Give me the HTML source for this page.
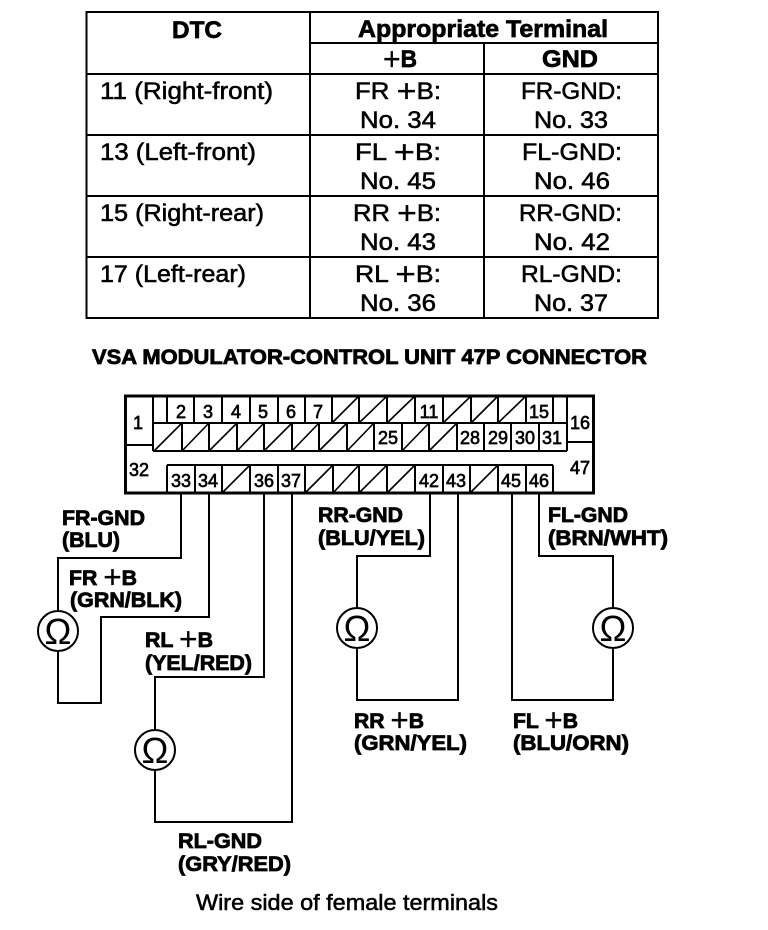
<!DOCTYPE html>
<html><head><meta charset="utf-8">
<style>
html,body{margin:0;padding:0;background:#fff;width:768px;height:930px;overflow:hidden}
svg{display:block}
text{font-family:"Liberation Sans",sans-serif;fill:#000}
.r{font-size:24px;stroke:#000;stroke-width:.55px}
.b{font-size:21.5px;font-weight:bold;stroke:#000;stroke-width:.8px}
.h{font-size:24px;font-weight:bold;stroke:#000;stroke-width:.7px}
.n{font-size:18px;text-anchor:middle;stroke:#000;stroke-width:.65px}
.o{font-size:36px;text-anchor:middle}
.l{fill:none;stroke:#000;shape-rendering:crispEdges}
.p{font-weight:normal;font-size:32px;stroke-width:.2px}
</style></head><body>
<svg width="768" height="930" viewBox="0 0 768 930" xmlns="http://www.w3.org/2000/svg">
<rect width="768" height="930" fill="#fff"/>
<!-- table -->
<rect class="l" x="86.5" y="12" width="571.5" height="306" stroke-width="2"/>
<path class="l" stroke-width="2" d="M310 12V318M484 43V318M310 43H658M86 74H658M86 135H658M86 196H658M86 257H658"/>
<text class="h" x="172" y="38" textLength="50" lengthAdjust="spacingAndGlyphs">DTC</text>
<text class="h" x="358" y="37" textLength="250" lengthAdjust="spacingAndGlyphs">Appropriate Terminal</text>
<text class="h" x="383" y="67" textLength="34" lengthAdjust="spacingAndGlyphs"><tspan class="p" dy="3">+</tspan><tspan dy="-3">B</tspan></text>
<text class="h" x="542" y="67" textLength="56" lengthAdjust="spacingAndGlyphs">GND</text>

<text class="r" x="100" y="99" textLength="173" lengthAdjust="spacingAndGlyphs">11 (Right-front)</text>
<text class="r" x="355" y="99" textLength="86" lengthAdjust="spacingAndGlyphs">FR <tspan class="p" dy="3">+</tspan><tspan dy="-3">B:</tspan></text>
<text class="r" x="521" y="99" textLength="101" lengthAdjust="spacingAndGlyphs">FR-GND:</text>
<text class="r" x="360" y="128" textLength="76" lengthAdjust="spacingAndGlyphs">No. 34</text>
<text class="r" x="534" y="128" textLength="74" lengthAdjust="spacingAndGlyphs">No. 33</text>

<text class="r" x="100" y="160" textLength="156" lengthAdjust="spacingAndGlyphs">13 (Left-front)</text>
<text class="r" x="355" y="160" textLength="86" lengthAdjust="spacingAndGlyphs">FL <tspan class="p" dy="3">+</tspan><tspan dy="-3">B:</tspan></text>
<text class="r" x="522" y="160" textLength="100" lengthAdjust="spacingAndGlyphs">FL-GND:</text>
<text class="r" x="360" y="189" textLength="76" lengthAdjust="spacingAndGlyphs">No. 45</text>
<text class="r" x="534" y="189" textLength="76" lengthAdjust="spacingAndGlyphs">No. 46</text>

<text class="r" x="100" y="221" textLength="164" lengthAdjust="spacingAndGlyphs">15 (Right-rear)</text>
<text class="r" x="353" y="221" textLength="88" lengthAdjust="spacingAndGlyphs">RR <tspan class="p" dy="3">+</tspan><tspan dy="-3">B:</tspan></text>
<text class="r" x="519" y="221" textLength="103" lengthAdjust="spacingAndGlyphs">RR-GND:</text>
<text class="r" x="360" y="250" textLength="76" lengthAdjust="spacingAndGlyphs">No. 43</text>
<text class="r" x="534" y="250" textLength="76" lengthAdjust="spacingAndGlyphs">No. 42</text>

<text class="r" x="100" y="282" textLength="146" lengthAdjust="spacingAndGlyphs">17 (Left-rear)</text>
<text class="r" x="355" y="282" textLength="86" lengthAdjust="spacingAndGlyphs">RL <tspan class="p" dy="3">+</tspan><tspan dy="-3">B:</tspan></text>
<text class="r" x="521" y="282" textLength="101" lengthAdjust="spacingAndGlyphs">RL-GND:</text>
<text class="r" x="360" y="311" textLength="76" lengthAdjust="spacingAndGlyphs">No. 36</text>
<text class="r" x="534" y="311" textLength="74" lengthAdjust="spacingAndGlyphs">No. 37</text>

<text class="b" x="92" y="364" textLength="555" lengthAdjust="spacingAndGlyphs">VSA MODULATOR-CONTROL UNIT 47P CONNECTOR</text>

<!-- wires -->
<path class="l" stroke-width="2" d="M181 493V558H58V703H101V617H209V493"/>
<path class="l" stroke-width="2" d="M264 493V677H155V822H292V493"/>
<path class="l" stroke-width="2" d="M430 493V556H357V700H458V493"/>
<path class="l" stroke-width="2" d="M512 493V700H613V556H539V493"/>

<!-- connector -->
<rect class="l" x="125.5" y="396" width="468" height="97" stroke-width="3" style="fill:#fff"/>
<path class="l" stroke-width="2" d="M153 396V451M153 451H567M567 396V451M125 445H153M567 442H594"/>
<path class="l" stroke-width="2" d="M153 423H567M167 396V423M194 396V423M222 396V423M250 396V423M278 396V423M305 396V423M332 396V423M359 396V423M387 396V423M415 396V423M443 396V423M471 396V423M498 396V423M526 396V423M553 396V423"/>
<path class="l" stroke-width="2" d="M182 423V451M209 423V451M237 423V451M264 423V451M292 423V451M319 423V451M347 423V451M374 423V451M402 423V451M429 423V451M457 423V451M484 423V451M511 423V451M539 423V451"/>
<path class="l" stroke-width="2" d="M167 465H553M167 465V493M195 465V493M222 465V493M250 465V493M278 465V493M305 465V493M333 465V493M359 465V493M387 465V493M415 465V493M443 465V493M470 465V493M498 465V493M526 465V493M553 465V493"/>
<path fill="none" stroke="#000" stroke-width="1.6" d="M332 423L359 396M359 423L387 396M387 423L415 396M443 423L471 396M471 423L498 396M498 423L526 396M154 451L182 423M182 451L209 423M209 451L237 423M237 451L264 423M264 451L292 423M292 451L319 423M319 451L347 423M347 451L374 423M402 451L429 423M429 451L457 423M222 493L250 465M305 493L333 465M333 493L359 465M359 493L387 465M387 493L415 465M470 493L498 465"/>

<g>
<text class="n" x="181" y="418">2</text><text class="n" x="208" y="418">3</text><text class="n" x="236" y="418">4</text><text class="n" x="263" y="418">5</text><text class="n" x="291" y="418">6</text><text class="n" x="318" y="418">7</text><text class="n" x="429" y="418">11</text><text class="n" x="539" y="418">15</text>
<text class="n" x="388" y="444">25</text><text class="n" x="470" y="444">28</text><text class="n" x="498" y="444">29</text><text class="n" x="525" y="444">30</text><text class="n" x="552" y="444">31</text>
<text class="n" x="181" y="487">33</text><text class="n" x="208" y="487">34</text><text class="n" x="264" y="487">36</text><text class="n" x="291" y="487">37</text><text class="n" x="429" y="487">42</text><text class="n" x="456" y="487">43</text><text class="n" x="511" y="487">45</text><text class="n" x="539" y="487">46</text>
<text class="n" x="138" y="429">1</text><text class="n" x="139" y="476">32</text><text class="n" x="580" y="429">16</text><text class="n" x="580" y="474">47</text>
</g>

<!-- meters -->
<g fill="#fff" stroke="#000" stroke-width="2">
<circle cx="58" cy="631" r="20"/><circle cx="155" cy="750" r="20"/><circle cx="357" cy="628" r="20"/><circle cx="613" cy="628" r="20"/>
</g>
<text class="o" x="58" y="644">Ω</text><text class="o" x="155" y="763">Ω</text><text class="o" x="357" y="641">Ω</text><text class="o" x="613" y="641">Ω</text>

<!-- labels -->
<text class="b" x="62" y="525" textLength="83" lengthAdjust="spacingAndGlyphs">FR-GND</text>
<text class="b" x="62" y="547" textLength="58" lengthAdjust="spacingAndGlyphs">(BLU)</text>
<text class="b" x="69" y="585" textLength="68" lengthAdjust="spacingAndGlyphs">FR <tspan class="p" dy="3">+</tspan><tspan dy="-3">B</tspan></text>
<text class="b" x="70" y="607" textLength="112" lengthAdjust="spacingAndGlyphs">(GRN/BLK)</text>
<text class="b" x="145" y="647" textLength="68" lengthAdjust="spacingAndGlyphs">RL <tspan class="p" dy="3">+</tspan><tspan dy="-3">B</tspan></text>
<text class="b" x="145" y="670" textLength="107" lengthAdjust="spacingAndGlyphs">(YEL/RED)</text>
<text class="b" x="178" y="848" textLength="84" lengthAdjust="spacingAndGlyphs">RL-GND</text>
<text class="b" x="178" y="871" textLength="113" lengthAdjust="spacingAndGlyphs">(GRY/RED)</text>
<text class="b" x="318" y="522" textLength="85" lengthAdjust="spacingAndGlyphs">RR-GND</text>
<text class="b" x="318" y="545" textLength="107" lengthAdjust="spacingAndGlyphs">(BLU/YEL)</text>
<text class="b" x="548" y="522" textLength="80" lengthAdjust="spacingAndGlyphs">FL-GND</text>
<text class="b" x="548" y="545" textLength="120" lengthAdjust="spacingAndGlyphs">(BRN/WHT)</text>
<text class="b" x="354" y="728" textLength="70" lengthAdjust="spacingAndGlyphs">RR <tspan class="p" dy="3">+</tspan><tspan dy="-3">B</tspan></text>
<text class="b" x="354" y="750" textLength="113" lengthAdjust="spacingAndGlyphs">(GRN/YEL)</text>
<text class="b" x="513" y="728" textLength="65" lengthAdjust="spacingAndGlyphs">FL <tspan class="p" dy="3">+</tspan><tspan dy="-3">B</tspan></text>
<text class="b" x="513" y="750" textLength="116" lengthAdjust="spacingAndGlyphs">(BLU/ORN)</text>

<text class="r" x="196" y="910" textLength="302" lengthAdjust="spacingAndGlyphs" style="font-size:22px">Wire side of female terminals</text>
</svg>
</body></html>
